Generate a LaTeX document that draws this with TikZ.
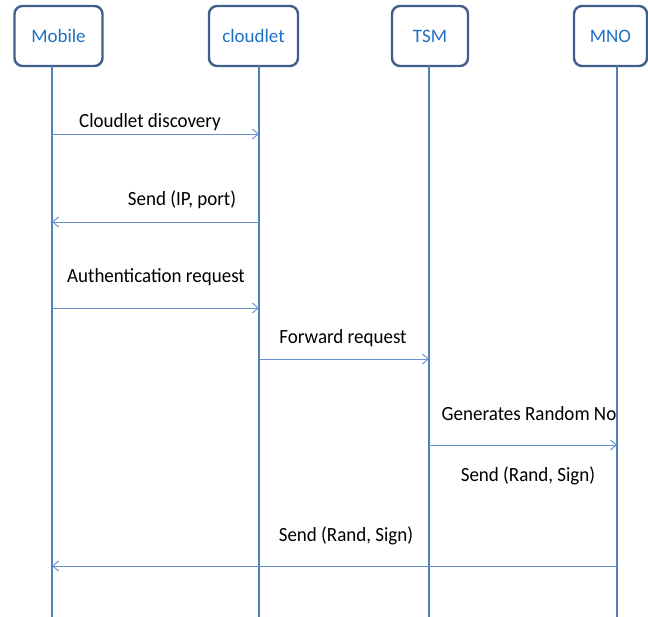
\documentclass[tikz,border=0pt]{standalone}
\usepackage{fontspec}
\setmainfont{Carlito}
\usetikzlibrary{arrows.meta}
\definecolor{boxedge}{RGB}{64,94,140}
\definecolor{boxtext}{RGB}{30,112,196}
\definecolor{lifeblue}{RGB}{79,129,189}
\definecolor{msgblue}{RGB}{100,145,205}
\tikzset{
  actor/.style={draw=boxedge, line width=2.4pt, rounded corners=8pt, fill=white,
    text=boxtext, font=\fontsize{19}{21}\selectfont, inner sep=0pt},
  lifeline/.style={draw=lifeblue, line width=1.8pt},
  msg/.style={draw=msgblue, line width=0.9pt, -{Straight Barb[length=6pt,width=10pt,line width=0.9pt]}},
  msglabel/.style={font=\fontsize{19}{21}\selectfont, text=black, inner sep=0pt,
    yscale=1.06, transform shape}
}
\begin{document}
\begin{tikzpicture}[x=1pt,y=-1pt]
\useasboundingbox (0,0) rectangle (648,617);

% participants
\node[actor, minimum width=88pt, minimum height=60pt] (mobile) at (58.5,36) {Mobile};
\node[actor, minimum width=89pt, minimum height=60pt] (cloudlet) at (253.5,36) {cloudlet};
\node[actor, minimum width=76pt, minimum height=60pt] (tsm) at (430,36) {TSM};
\node[actor, minimum width=73pt, minimum height=60pt] (mno) at (610.5,36) {MNO};

% lifeline tops and bottoms
\coordinate (mT) at (52,66);   \coordinate (mB) at (52,617);
\coordinate (cT) at (259,66);  \coordinate (cB) at (259,617);
\coordinate (tT) at (429,66);  \coordinate (tB) at (429,617);
\coordinate (nT) at (617,66);  \coordinate (nB) at (617,617);
\draw[lifeline] (mT) -- (mB);
\draw[lifeline] (cT) -- (cB);
\draw[lifeline] (tT) -- (tB);
\draw[lifeline] (nT) -- (nB);

% message end points
\coordinate (m1) at (52,134);  \coordinate (c1) at (259,134);
\coordinate (c2) at (259,222); \coordinate (m2) at (52,222);
\coordinate (m3) at (52,308);  \coordinate (c3) at (259,308);
\coordinate (c4) at (259,359); \coordinate (t4) at (429,359);
\coordinate (t5) at (429,445); \coordinate (n5) at (617,445);
\coordinate (n6) at (617,566); \coordinate (m6) at (52,566);

% messages
\draw[msg] (m1) -- (c1);
\draw[msg] (c2) -- (m2);
\draw[msg] (m3) -- (c3);
\draw[msg] (c4) -- (t4);
\draw[msg] (t5) -- (n5);
\draw[msg] (n6) -- (m6);

% labels
\node[msglabel] (l1) at (150,122) {Cloudlet discovery};
\node[msglabel] (l2) at (182,200) {Send (IP, port)};
\node[msglabel] (l3) at (156,277) {Authentication request};
\node[msglabel] (l4) at (343,338) {Forward request};
\node[msglabel] (l5) at (529,414) {Generates Random No};
\node[msglabel] (l6) at (528,476) {Send (Rand, Sign)};
\node[msglabel] (l7) at (346,536) {Send (Rand, Sign)};
\end{tikzpicture}
\end{document}
